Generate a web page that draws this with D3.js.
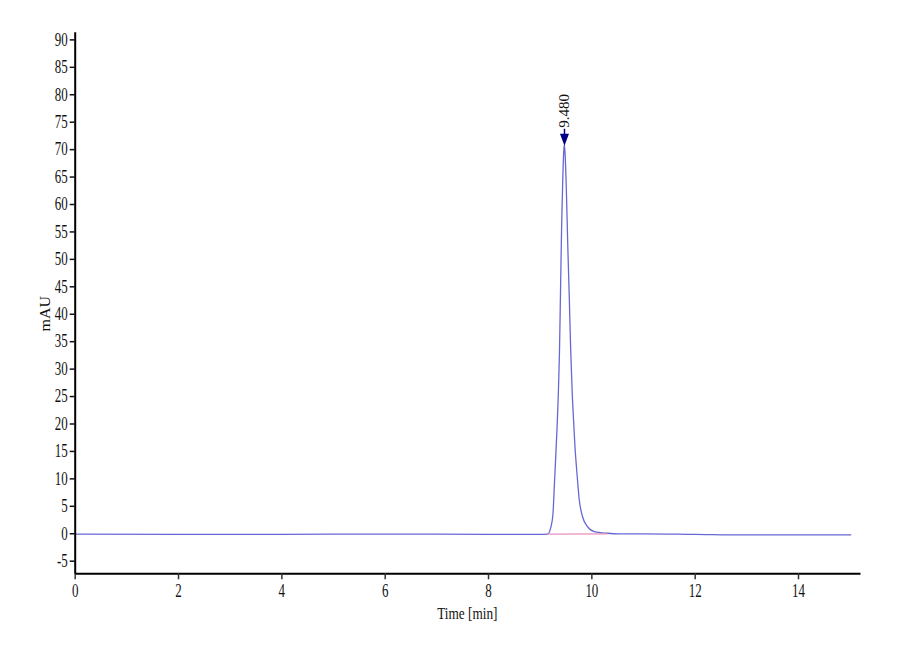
<!DOCTYPE html>
<html>
<head>
<meta charset="utf-8">
<script src="https://cdn.jsdelivr.net/npm/d3@7"></script>
<style>
  body { margin: 0; background: #fff; }
  text { font-family: "Liberation Serif", "Times New Roman", serif; }
</style>
</head>
<body>
<div id="chart"></div>
<script>
// chromatogram trace
let times = [0, 2, 4, 6, 8, 9.0, 9.153, 9.219, 9.258, 9.283, 9.308, 9.335, 9.36, 9.383, 9.405, 9.425, 9.447, 9.465, 9.476,
  9.49, 9.515, 9.545, 9.573, 9.60, 9.63, 9.656, 9.683, 9.722, 9.766, 9.83, 9.927, 10.056, 10.31, 10.54, 11, 12, 13, 14, 15.03];
let values = [-0.15, -0.2, -0.2, -0.15, -0.2, -0.2, -0.15, 1.2, 3.6, 8.5, 13.4, 19, 25, 33, 45, 56, 64.5, 69.5, 70.8,
  69.5, 63, 52, 43, 33.5, 25.5, 20.6, 15.8, 10.9, 6.1, 3.0, 1.2, 0.3, 0.0, -0.1, -0.1, -0.2, -0.3, -0.3, -0.3];
// integration baseline
let baseTimes = [9.153, 10.31];
let baseValues = [-0.15, -0.1];
let peakTime = 9.480, peakValue = 70.8, peakLabel = "9.480";

let xTicks = [0, 2, 4, 6, 8, 10, 12, 14];
let yTicks = d3.range(-5, 91, 5);

let width = 900, height = 660;
let svg = d3.select("#chart").append("svg")
  .attr("width", width).attr("height", height);

let x = d3.scaleLinear().domain([0, 15.2]).range([74.7, 860]);
let y = d3.scaleLinear().domain([-7.3, 91.4]).range([573.3, 31.7]);

// trace
let line = d3.line().x((d, i) => x(times[i])).y((d, i) => y(values[i])).curve(d3.curveMonotoneX);
svg.append("path").datum(values)
  .attr("d", line)
  .attr("fill", "none")
  .attr("stroke", "#6868d4")
  .attr("stroke-width", 1.3);

// baseline
svg.append("path").datum(baseValues)
  .attr("d", d3.line().x((d, i) => x(baseTimes[i])).y((d) => y(d)))
  .attr("fill", "none")
  .attr("stroke", "#e890c0")
  .attr("stroke-width", 1.2);

// x axis
let xAxis = svg.append("g")
  .attr("transform", "translate(0," + y(-7.3) + ")")
  .call(d3.axisBottom(x).tickValues(xTicks).tickSize(6).tickSizeOuter(0).tickFormat((d) => String(d)));
xAxis.select(".domain").attr("stroke", "#000").attr("stroke-width", 2);
xAxis.selectAll(".tick line").attr("stroke", "#333").attr("stroke-width", 1.5);
xAxis.selectAll(".tick text")
  .attr("y", 11)
  .attr("x", 0)
  .attr("transform", "scale(0.72,1)")
  .style("font-size", "18px")
  .attr("fill", "#111");

// y axis
let yAxis = svg.append("g")
  .attr("transform", "translate(" + x(0) + ",0)")
  .call(d3.axisLeft(y).tickValues(yTicks).tickSize(5).tickSizeOuter(0).tickFormat((d) => String(d)));
yAxis.select(".domain").attr("stroke", "#000").attr("stroke-width", 2);
yAxis.selectAll(".tick line").attr("stroke", "#111").attr("stroke-width", 1.5);
yAxis.selectAll(".tick text")
  .attr("x", -7 / 0.72)
  .attr("transform", "scale(0.72,1)")
  .style("font-size", "18px")
  .attr("fill", "#111");

// axis titles
svg.append("text")
  .attr("transform", "translate(" + x(7.6) + ",619) scale(0.78,1)")
  .attr("text-anchor", "middle")
  .style("font-size", "17px")
  .attr("fill", "#111")
  .text("Time [min]");

svg.append("text")
  .attr("transform", "translate(50," + y(40) + ") rotate(-90) scale(1,0.85)")
  .attr("text-anchor", "middle")
  .style("font-size", "16px")
  .attr("fill", "#111")
  .text("mAU");

// peak marker
let px = x(peakTime), py = y(peakValue);
svg.append("line")
  .attr("x1", px).attr("x2", px)
  .attr("y1", py - 16).attr("y2", py - 9)
  .attr("stroke", "#000080").attr("stroke-width", 1.5);
svg.append("path")
  .attr("d", "M" + (px - 4.5) + "," + (py - 11) + "L" + (px + 4.5) + "," + (py - 11) + "L" + px + "," + (py + 1) + "Z")
  .attr("fill", "#000080");
svg.append("text")
  .attr("transform", "translate(" + (px + 5) + "," + (py - 17) + ") rotate(-90)")
  .attr("text-anchor", "start")
  .style("font-size", "15px")
  .attr("fill", "#111")
  .text(peakLabel);
</script>
</body>
</html>
